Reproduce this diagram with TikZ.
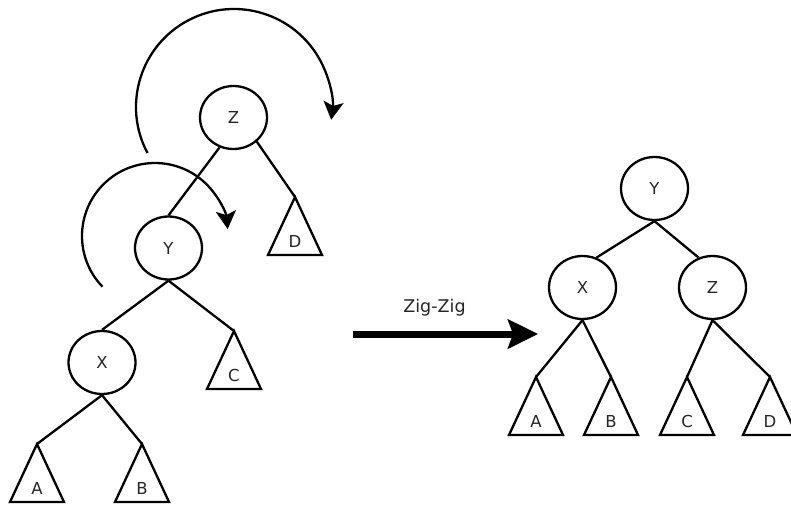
\documentclass[tikz,border=0pt]{standalone}
\usepackage{fontspec}
\setmainfont{DejaVu Sans}
\usetikzlibrary{shapes.geometric,arrows.meta,calc}
\tikzset{
  x=1pt,y=-1pt,
  keynode/.style={ellipse,draw,line width=2.3pt,minimum width=67pt,minimum height=63pt,inner sep=0pt,font=\fontsize{16.5}{16.5}\selectfont,text=black!85},
  trilabel/.style={font=\fontsize{16.5}{16.5}\selectfont,inner sep=0pt,text=black!85},
  edge/.style={line width=2.3pt},
  rotarrow/.style={line width=2.3pt,-{Stealth[length=18pt,width=20pt,inset=4pt]}},
  bigarrow/.style={line width=7pt,-{Stealth[length=30pt,width=29pt,inset=5pt]}},
  pics/subtree/.style={code={
    \draw[line width=2.3pt,line join=miter] (0,0) -- (-27,58) -- (27,58) -- cycle;
    \node[trilabel] at (0,44) {#1};
  }}
}
\begin{document}
\begin{tikzpicture}
\useasboundingbox (0,0) rectangle (791,506);
% ---------- left tree ----------
\node[keynode] (lZ) at (233.5,117.5) {Z};
\node[keynode] (lY) at (168.5,248) {Y};
\node[keynode] (lX) at (102,362.5) {X};
\coordinate (lD) at (295,197);
\coordinate (lC) at (234,331);
\coordinate (lA) at (37,444);
\coordinate (lB) at (142,444);
\pic at (lD) {subtree=D};
\pic at (lC) {subtree=C};
\pic at (lA) {subtree=A};
\pic at (lB) {subtree=B};
\draw[edge] (lZ.245) -- (lY.north);
\draw[edge] (lZ.314) -- (lD);
\draw[edge] (lY.south) -- (lX.north);
\draw[edge] (lY.south) -- (lC);
\draw[edge] (lX.south) -- (lA);
\draw[edge] (lX.south) -- (lB);
% rotation arrows
\coordinate (bigstart) at ($(234,107)+(-208:98)$);
\coordinate (smallstart) at ($(155,236)+(-224:73)$);
\draw[rotarrow] (bigstart) arc[start angle=-208,end angle=7.5,radius=98];
\draw[rotarrow] (smallstart) arc[start angle=-224,end angle=-5.5,radius=73];
% ---------- zig-zig arrow ----------
\coordinate (zs) at (353,334);
\coordinate (ze) at (538,334);
\draw[bigarrow] (zs) -- (ze);
\node[font=\fontsize{17.5}{17.5}\selectfont,text=black!85] (zl) at (434.5,308) {Zig-Zig};
% ---------- right tree ----------
\node[keynode] (rY) at (654.5,188.5) {Y};
\node[keynode] (rX) at (582.5,287.5) {X};
\node[keynode] (rZ) at (712.5,287.5) {Z};
\coordinate (rA) at (536,377);
\coordinate (rB) at (611,377);
\coordinate (rC) at (687,377);
\coordinate (rD) at (770,377);
\pic at (rA) {subtree=A};
\pic at (rB) {subtree=B};
\pic at (rC) {subtree=C};
\pic at (rD) {subtree=D};
\draw[edge] (rY.south) -- (rX.65);
\draw[edge] (rY.south) -- (rZ.115);
\draw[edge] (rX.south) -- (rA);
\draw[edge] (rX.south) -- (rB);
\draw[edge] (rZ.south) -- (rC);
\draw[edge] (rZ.south) -- (rD);
\end{tikzpicture}
\end{document}
